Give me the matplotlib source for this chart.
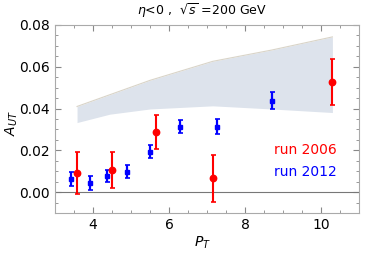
import matplotlib
matplotlib.use("Agg")
import matplotlib.pyplot as plt
from matplotlib.ticker import MultipleLocator

# Band (theory) values
band_pt = [3.58, 4.44, 5.5, 7.15, 8.7, 10.3]
band_hi = [0.041, 0.0466, 0.0535, 0.0626, 0.068, 0.0743]
band_lo = [0.0333, 0.0373, 0.0398, 0.0413, 0.0398, 0.0381]

# run 2006
pt_2006 = [3.59, 4.49, 5.66, 7.16, 10.3]
a_2006 = [0.0090, 0.0106, 0.0288, 0.0067, 0.0528]
e_2006 = [0.0100, 0.0086, 0.0083, 0.0112, 0.0110]

# run 2012
pt_2012 = [3.42, 3.92, 4.37, 4.89, 5.51, 6.28, 7.25, 8.70]
a_2012 = [0.0064, 0.0045, 0.0077, 0.0098, 0.0194, 0.0314, 0.0314, 0.0438]
e_2012 = [0.0033, 0.0033, 0.0030, 0.0032, 0.0032, 0.0033, 0.0035, 0.0040]

fig = plt.figure(figsize=(3.82, 2.54), dpi=100)
ax = fig.add_axes([55/382, 1-213/254, (359-55)/382, (213-25)/254])

ax.fill_between(band_pt, band_lo, band_hi, color='#dde3ec', lw=0)
ax.plot(band_pt, band_hi, color='#d9d4c8', lw=0.8)
ax.axhline(0, color='#777777', lw=0.8)

ax.errorbar(pt_2012, a_2012, yerr=e_2012, fmt='s', color='blue', ms=3.3,
            elinewidth=1.6, capsize=1.8, capthick=1.2, zorder=3)
ax.errorbar(pt_2006, a_2006, yerr=e_2006, fmt='o', color='red', ms=4.6,
            elinewidth=1.5, capsize=1.8, capthick=1.2, zorder=4)

ax.set_xlim(3, 11)
ax.set_ylim(-0.01, 0.08)
ax.set_xticks([4, 6, 8, 10])
ax.set_yticks([0.0, 0.02, 0.04, 0.06, 0.08])
ax.set_yticklabels(['0.00', '0.02', '0.04', '0.06', '0.08'])
ax.xaxis.set_minor_locator(MultipleLocator(0.5))
ax.yaxis.set_minor_locator(MultipleLocator(0.005))
ax.tick_params(which='both', direction='in', top=True, right=True,
               color='#888888', labelsize=10)
ax.tick_params(which='major', length=4)
ax.tick_params(which='minor', length=2)
for s in ax.spines.values():
    s.set_color('#aaaaaa')

ax.text(8.77, 0.0200, 'run 2006', color='red', fontsize=10, va='center')
ax.text(8.77, 0.0098, 'run 2012', color='blue', fontsize=10, va='center')

fig.text(202/382, 1-11/254, r'$\eta$<0 ,  $\sqrt{s}$ =200 GeV', ha='center',
         va='center', fontsize=9)
fig.text(12/382, 1-123/254, r'$A_{UT}$', rotation=90, ha='center', va='center', fontsize=10)
fig.text(202/382, 1-243/254, r'$P_T$', ha='center', va='center', fontsize=10)

fig.savefig('out.png', dpi=100)
